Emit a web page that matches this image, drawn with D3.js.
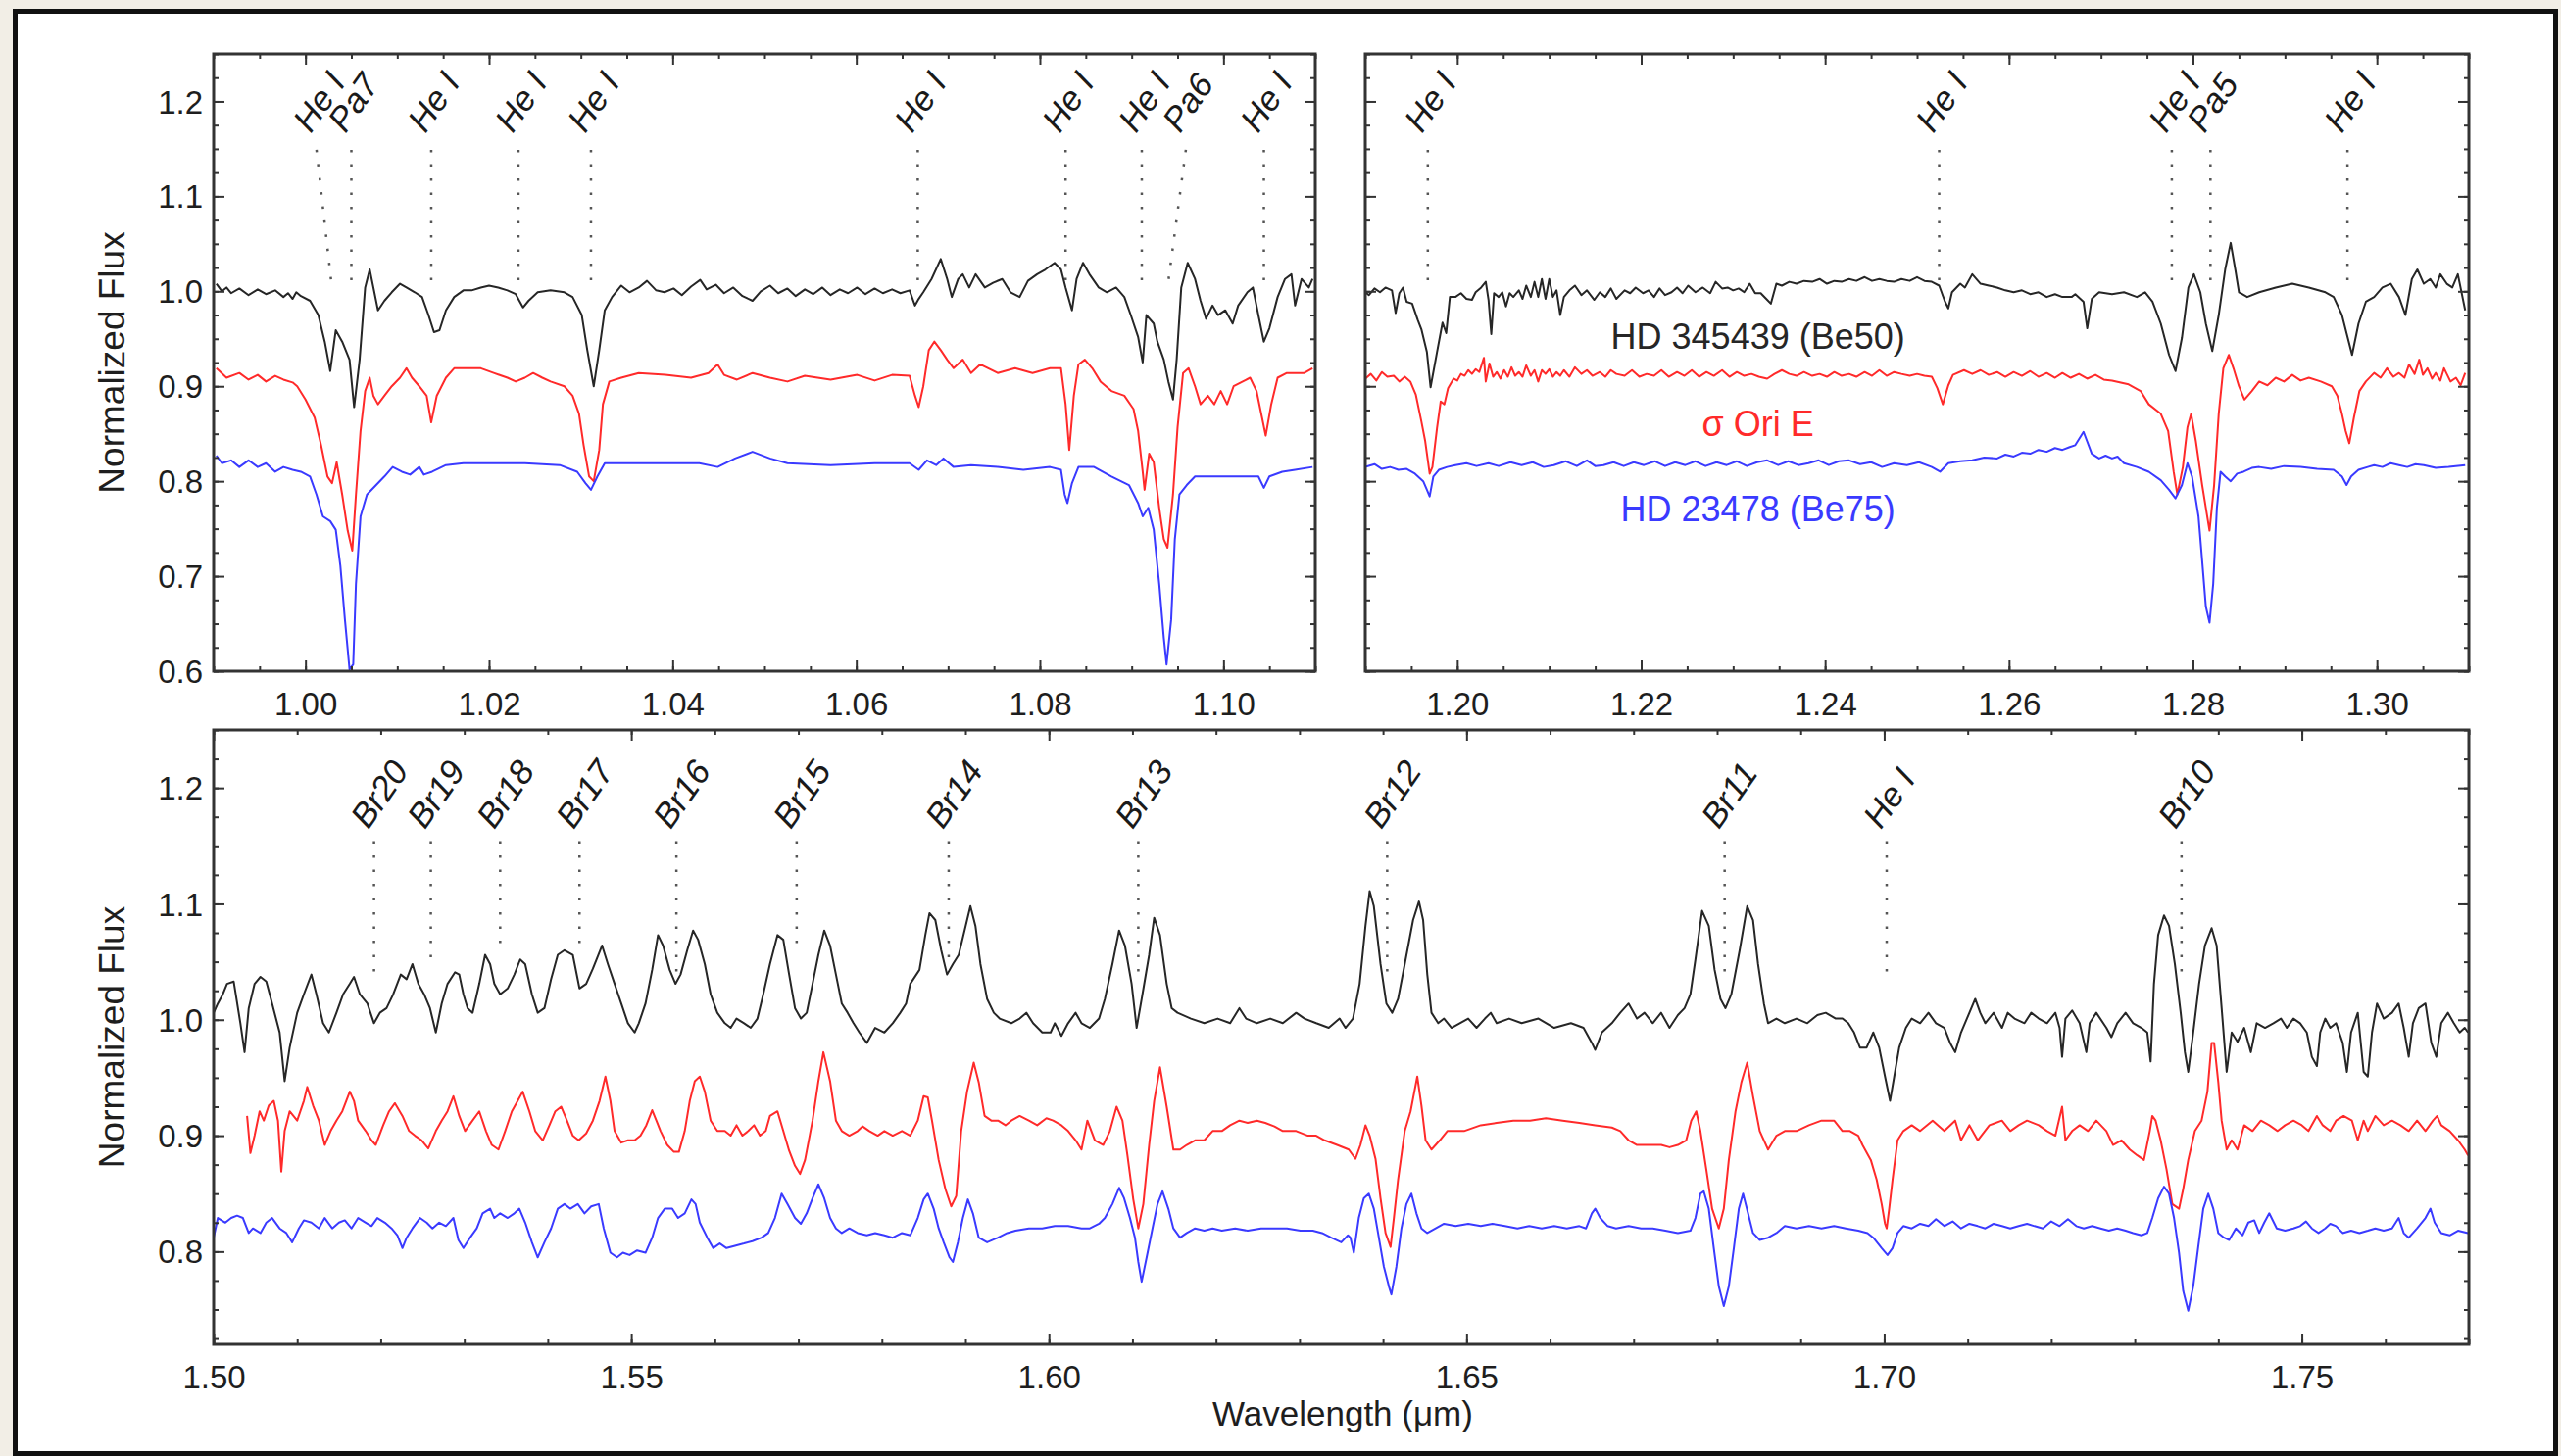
<!DOCTYPE html>
<html><head><meta charset="utf-8">
<script src="https://cdn.jsdelivr.net/npm/d3@7"></script>
<style>html,body{margin:0;padding:0;background:#f2eee6;} svg{display:block;}</style>
</head><body><svg id="c" width="2613" height="1486"></svg>
<script>
// ---------------- DATA ----------------
const seriesNames = ["HD 345439 (Be50)", "σ Ori E", "HD 23478 (Be75)"];
const xTicksP1 = [1.00, 1.02, 1.04, 1.06, 1.08, 1.10];
const xTicksP2 = [1.20, 1.22, 1.24, 1.26, 1.28, 1.30];
const xTicksP3 = [1.50, 1.55, 1.60, 1.65, 1.70, 1.75];

// Panel 1 (0.99 - 1.11 micron)
const p1Black = [[0.9903,1.008],[0.9909,1.000],[0.9914,1.004],[0.9919,0.998],[0.9928,1.003],[0.9938,0.996],[0.9948,1.002],[0.9957,0.997],[0.9967,1.001],[0.9976,0.994],[0.9981,0.998],[0.9986,0.992],[0.9990,0.999],[0.9995,0.995],[1.0005,0.990],[1.0014,0.975],[1.0021,0.947],[1.0027,0.916],[1.0033,0.959],[1.0040,0.947],[1.0048,0.928],[1.0053,0.878],[1.0059,0.928],[1.0065,1.004],[1.0070,1.023],[1.0074,1.004],[1.0079,0.980],[1.0086,0.990],[1.0094,0.999],[1.0103,1.008],[1.0110,1.004],[1.0119,0.999],[1.0127,0.994],[1.0134,0.975],[1.0140,0.957],[1.0146,0.959],[1.0153,0.980],[1.0162,0.994],[1.0172,1.001],[1.0181,1.001],[1.0191,1.004],[1.0200,1.006],[1.0210,1.004],[1.0220,1.001],[1.0229,0.997],[1.0237,0.983],[1.0243,0.990],[1.0253,0.999],[1.0267,1.001],[1.0282,0.999],[1.0291,0.994],[1.0301,0.975],[1.0307,0.938],[1.0314,0.900],[1.0320,0.938],[1.0326,0.980],[1.0334,0.994],[1.0344,1.006],[1.0353,0.999],[1.0363,1.004],[1.0372,1.011],[1.0382,1.001],[1.0391,0.999],[1.0401,1.003],[1.0410,0.996],[1.0420,1.005],[1.0430,1.012],[1.0437,1.002],[1.0447,1.007],[1.0456,0.998],[1.0466,1.004],[1.0476,0.995],[1.0487,0.990],[1.0496,1.000],[1.0506,1.006],[1.0515,0.998],[1.0525,1.003],[1.0534,0.995],[1.0544,1.002],[1.0553,0.997],[1.0563,1.004],[1.0572,0.996],[1.0582,1.002],[1.0591,0.998],[1.0601,1.004],[1.0610,0.997],[1.0620,1.003],[1.0629,0.998],[1.0639,1.002],[1.0648,0.998],[1.0658,1.001],[1.0664,0.985],[1.0668,0.992],[1.0673,0.999],[1.0682,1.013],[1.0692,1.034],[1.0699,1.013],[1.0704,0.994],[1.0711,1.013],[1.0716,1.018],[1.0723,1.004],[1.0730,1.018],[1.0740,1.004],[1.0749,1.009],[1.0759,1.013],[1.0768,0.999],[1.0778,0.994],[1.0787,1.011],[1.0797,1.018],[1.0806,1.023],[1.0816,1.030],[1.0823,1.023],[1.0828,1.004],[1.0835,0.980],[1.0840,1.013],[1.0847,1.030],[1.0854,1.018],[1.0864,1.004],[1.0873,0.999],[1.0883,1.004],[1.0892,0.994],[1.0899,0.975],[1.0907,0.952],[1.0912,0.925],[1.0916,0.975],[1.0924,0.966],[1.0928,0.947],[1.0935,0.928],[1.0940,0.905],[1.0945,0.886],[1.0949,0.928],[1.0954,1.004],[1.0961,1.030],[1.0969,1.013],[1.0975,0.990],[1.0981,0.971],[1.0988,0.985],[1.0994,0.975],[1.1002,0.980],[1.1010,0.966],[1.1016,0.985],[1.1026,0.999],[1.1032,1.004],[1.1038,0.975],[1.1044,0.947],[1.1050,0.961],[1.1059,0.994],[1.1067,1.013],[1.1074,1.018],[1.1078,0.985],[1.1085,1.013],[1.1093,1.004],[1.1097,1.013]];
const p1Red = [[0.9903,0.919],[0.9914,0.909],[0.9928,0.914],[0.9938,0.907],[0.9948,0.912],[0.9957,0.905],[0.9967,0.911],[0.9976,0.907],[0.9986,0.904],[0.9991,0.900],[1.0000,0.886],[1.0010,0.867],[1.0017,0.838],[1.0024,0.805],[1.0029,0.798],[1.0034,0.820],[1.0040,0.786],[1.0046,0.748],[1.0051,0.727],[1.0055,0.786],[1.0060,0.853],[1.0065,0.895],[1.0070,0.909],[1.0074,0.890],[1.0079,0.881],[1.0086,0.890],[1.0094,0.900],[1.0103,0.909],[1.0110,0.919],[1.0116,0.909],[1.0124,0.900],[1.0132,0.890],[1.0137,0.862],[1.0143,0.890],[1.0153,0.909],[1.0162,0.919],[1.0177,0.919],[1.0191,0.919],[1.0205,0.914],[1.0220,0.909],[1.0229,0.905],[1.0239,0.909],[1.0248,0.914],[1.0258,0.909],[1.0267,0.905],[1.0282,0.900],[1.0291,0.890],[1.0298,0.871],[1.0303,0.838],[1.0309,0.805],[1.0314,0.800],[1.0320,0.833],[1.0324,0.881],[1.0331,0.905],[1.0344,0.909],[1.0363,0.914],[1.0392,0.912],[1.0420,0.909],[1.0439,0.914],[1.0449,0.923],[1.0456,0.912],[1.0470,0.907],[1.0487,0.914],[1.0506,0.909],[1.0525,0.905],[1.0544,0.911],[1.0572,0.907],[1.0601,0.912],[1.0620,0.906],[1.0639,0.912],[1.0658,0.911],[1.0664,0.890],[1.0668,0.878],[1.0673,0.900],[1.0679,0.938],[1.0685,0.947],[1.0692,0.938],[1.0699,0.928],[1.0706,0.919],[1.0716,0.928],[1.0725,0.914],[1.0735,0.923],[1.0754,0.914],[1.0773,0.919],[1.0792,0.914],[1.0811,0.919],[1.0823,0.919],[1.0828,0.881],[1.0832,0.833],[1.0837,0.890],[1.0842,0.923],[1.0849,0.928],[1.0857,0.919],[1.0866,0.905],[1.0878,0.895],[1.0892,0.890],[1.0902,0.876],[1.0907,0.853],[1.0912,0.810],[1.0914,0.791],[1.0919,0.829],[1.0924,0.820],[1.0930,0.772],[1.0935,0.739],[1.0939,0.730],[1.0945,0.786],[1.0950,0.857],[1.0956,0.914],[1.0962,0.919],[1.0969,0.900],[1.0975,0.881],[1.0983,0.890],[1.0990,0.881],[1.0997,0.895],[1.1004,0.881],[1.1011,0.900],[1.1021,0.905],[1.1029,0.909],[1.1036,0.895],[1.1042,0.867],[1.1046,0.848],[1.1052,0.881],[1.1059,0.909],[1.1069,0.914],[1.1078,0.914],[1.1088,0.914],[1.1097,0.919]];
const p1Blue = [[0.9903,0.827],[0.9909,0.819],[0.9919,0.822],[0.9928,0.815],[0.9938,0.822],[0.9948,0.815],[0.9957,0.819],[0.9967,0.810],[0.9976,0.815],[0.9986,0.812],[0.9995,0.810],[1.0005,0.805],[1.0012,0.786],[1.0019,0.763],[1.0027,0.758],[1.0033,0.749],[1.0038,0.711],[1.0043,0.654],[1.0048,0.602],[1.0052,0.607],[1.0055,0.692],[1.0060,0.763],[1.0067,0.786],[1.0076,0.795],[1.0086,0.805],[1.0095,0.815],[1.0105,0.810],[1.0114,0.807],[1.0124,0.815],[1.0129,0.807],[1.0138,0.810],[1.0153,0.817],[1.0172,0.819],[1.0200,0.819],[1.0239,0.819],[1.0277,0.817],[1.0296,0.810],[1.0305,0.798],[1.0311,0.791],[1.0318,0.805],[1.0326,0.819],[1.0353,0.819],[1.0392,0.819],[1.0429,0.819],[1.0449,0.815],[1.0468,0.824],[1.0487,0.831],[1.0506,0.824],[1.0525,0.819],[1.0572,0.817],[1.0620,0.819],[1.0658,0.819],[1.0668,0.812],[1.0677,0.822],[1.0687,0.817],[1.0695,0.824],[1.0706,0.815],[1.0725,0.817],[1.0754,0.815],[1.0782,0.812],[1.0811,0.815],[1.0823,0.812],[1.0827,0.786],[1.0830,0.777],[1.0835,0.798],[1.0842,0.815],[1.0859,0.815],[1.0878,0.805],[1.0897,0.796],[1.0907,0.777],[1.0912,0.763],[1.0918,0.772],[1.0924,0.749],[1.0930,0.692],[1.0935,0.635],[1.0938,0.607],[1.0943,0.654],[1.0947,0.739],[1.0952,0.786],[1.0960,0.796],[1.0969,0.805],[1.0983,0.805],[1.1002,0.805],[1.1021,0.805],[1.1038,0.805],[1.1044,0.793],[1.1050,0.805],[1.1064,0.810],[1.1078,0.812],[1.1097,0.815]];

// Panel 2 (1.19 - 1.31 micron)
const p2Black = [[1.1900,0.999],[1.1904,0.996],[1.1910,1.003],[1.1916,0.999],[1.1922,1.004],[1.1929,1.001],[1.1933,0.977],[1.1937,0.998],[1.1941,1.004],[1.1945,0.989],[1.1951,0.987],[1.1957,0.970],[1.1961,0.960],[1.1967,0.936],[1.1971,0.899],[1.1978,0.936],[1.1984,0.967],[1.1988,0.956],[1.1992,0.994],[1.1998,0.994],[1.2004,0.998],[1.2010,0.992],[1.2016,0.991],[1.2020,0.999],[1.2026,1.004],[1.2031,1.010],[1.2034,0.991],[1.2037,0.955],[1.2040,0.998],[1.2045,0.994],[1.2049,0.999],[1.2053,0.984],[1.2057,0.998],[1.2061,0.994],[1.2067,1.001],[1.2071,0.992],[1.2075,1.006],[1.2080,0.994],[1.2084,1.010],[1.2088,0.994],[1.2092,1.013],[1.2096,0.992],[1.2100,1.013],[1.2104,0.994],[1.2108,1.001],[1.2112,0.975],[1.2116,0.994],[1.2122,1.001],[1.2128,1.006],[1.2135,0.996],[1.2141,1.001],[1.2149,0.991],[1.2155,0.999],[1.2161,0.994],[1.2167,1.003],[1.2173,0.992],[1.2182,1.001],[1.2188,0.998],[1.2194,1.004],[1.2202,0.998],[1.2208,1.001],[1.2214,0.994],[1.2220,1.003],[1.2226,0.996],[1.2233,0.999],[1.2239,1.004],[1.2245,0.998],[1.2251,1.006],[1.2259,0.999],[1.2267,1.004],[1.2275,0.998],[1.2281,1.010],[1.2288,1.003],[1.2294,1.004],[1.2300,1.001],[1.2306,1.003],[1.2312,0.999],[1.2318,1.008],[1.2324,0.998],[1.2330,0.998],[1.2337,0.991],[1.2341,0.987],[1.2347,1.008],[1.2353,1.006],[1.2361,1.010],[1.2369,1.008],[1.2377,1.011],[1.2386,1.010],[1.2394,1.013],[1.2402,1.008],[1.2410,1.011],[1.2418,1.010],[1.2426,1.013],[1.2434,1.011],[1.2443,1.015],[1.2451,1.011],[1.2459,1.013],[1.2467,1.011],[1.2475,1.010],[1.2483,1.013],[1.2492,1.011],[1.2500,1.015],[1.2508,1.011],[1.2516,1.010],[1.2524,1.006],[1.2530,0.990],[1.2534,0.982],[1.2538,0.999],[1.2547,1.008],[1.2552,1.004],[1.2560,1.018],[1.2569,1.008],[1.2578,1.006],[1.2587,1.004],[1.2596,1.001],[1.2605,0.999],[1.2614,1.001],[1.2623,0.997],[1.2632,0.999],[1.2641,0.994],[1.2650,0.997],[1.2658,0.994],[1.2668,0.994],[1.2672,0.997],[1.2681,0.989],[1.2685,0.961],[1.2690,0.992],[1.2698,0.999],[1.2712,0.997],[1.2725,0.999],[1.2739,0.994],[1.2748,0.999],[1.2756,0.989],[1.2765,0.966],[1.2774,0.933],[1.2781,0.916],[1.2788,0.951],[1.2795,1.004],[1.2801,1.018],[1.2808,0.999],[1.2814,0.966],[1.2821,0.937],[1.2828,0.975],[1.2835,1.023],[1.2841,1.051],[1.2846,1.023],[1.2850,0.999],[1.2859,0.994],[1.2872,0.999],[1.2890,1.004],[1.2908,1.008],[1.2926,1.004],[1.2944,0.999],[1.2953,0.994],[1.2962,0.975],[1.2968,0.952],[1.2973,0.933],[1.2980,0.966],[1.2988,0.989],[1.2997,0.994],[1.3006,1.004],[1.3015,1.008],[1.3024,0.994],[1.3031,0.975],[1.3038,1.013],[1.3044,1.023],[1.3051,1.008],[1.3058,1.013],[1.3064,1.004],[1.3069,1.018],[1.3076,1.008],[1.3082,1.004],[1.3088,1.018],[1.3096,0.980]];
const p2Red = [[1.1900,0.908],[1.1906,0.913],[1.1912,0.906],[1.1918,0.915],[1.1924,0.910],[1.1931,0.911],[1.1937,0.905],[1.1943,0.910],[1.1949,0.905],[1.1955,0.891],[1.1961,0.863],[1.1965,0.843],[1.1970,0.808],[1.1973,0.815],[1.1978,0.856],[1.1982,0.884],[1.1986,0.881],[1.1990,0.898],[1.1996,0.908],[1.2000,0.906],[1.2004,0.913],[1.2008,0.911],[1.2012,0.917],[1.2016,0.913],[1.2020,0.918],[1.2024,0.915],[1.2029,0.930],[1.2031,0.905],[1.2035,0.924],[1.2039,0.910],[1.2043,0.915],[1.2047,0.908],[1.2051,0.917],[1.2055,0.910],[1.2059,0.920],[1.2063,0.911],[1.2067,0.915],[1.2071,0.910],[1.2075,0.922],[1.2080,0.911],[1.2084,0.917],[1.2088,0.905],[1.2092,0.917],[1.2096,0.913],[1.2100,0.918],[1.2104,0.910],[1.2108,0.915],[1.2112,0.911],[1.2116,0.917],[1.2122,0.910],[1.2128,0.920],[1.2135,0.913],[1.2141,0.917],[1.2147,0.911],[1.2155,0.915],[1.2161,0.910],[1.2167,0.917],[1.2173,0.913],[1.2182,0.911],[1.2190,0.917],[1.2198,0.910],[1.2206,0.913],[1.2214,0.911],[1.2222,0.917],[1.2230,0.910],[1.2239,0.915],[1.2247,0.911],[1.2255,0.917],[1.2263,0.910],[1.2271,0.915],[1.2279,0.911],[1.2288,0.917],[1.2296,0.910],[1.2304,0.915],[1.2312,0.911],[1.2320,0.913],[1.2328,0.910],[1.2337,0.908],[1.2345,0.913],[1.2353,0.917],[1.2361,0.913],[1.2369,0.911],[1.2377,0.915],[1.2386,0.911],[1.2394,0.913],[1.2402,0.910],[1.2410,0.915],[1.2418,0.911],[1.2426,0.913],[1.2434,0.910],[1.2443,0.915],[1.2451,0.911],[1.2459,0.917],[1.2467,0.911],[1.2475,0.915],[1.2483,0.913],[1.2492,0.911],[1.2500,0.913],[1.2508,0.911],[1.2516,0.910],[1.2522,0.898],[1.2528,0.881],[1.2534,0.901],[1.2539,0.912],[1.2551,0.917],[1.2560,0.913],[1.2569,0.917],[1.2578,0.912],[1.2587,0.915],[1.2596,0.910],[1.2605,0.915],[1.2614,0.911],[1.2623,0.916],[1.2632,0.910],[1.2641,0.914],[1.2650,0.909],[1.2658,0.914],[1.2667,0.909],[1.2676,0.913],[1.2685,0.908],[1.2694,0.912],[1.2703,0.907],[1.2712,0.906],[1.2730,0.902],[1.2743,0.895],[1.2752,0.881],[1.2765,0.871],[1.2773,0.853],[1.2779,0.810],[1.2783,0.786],[1.2789,0.815],[1.2794,0.857],[1.2798,0.871],[1.2803,0.843],[1.2810,0.796],[1.2814,0.772],[1.2818,0.748],[1.2823,0.796],[1.2828,0.871],[1.2833,0.919],[1.2839,0.933],[1.2844,0.919],[1.2850,0.900],[1.2856,0.886],[1.2864,0.895],[1.2872,0.905],[1.2881,0.901],[1.2890,0.909],[1.2899,0.905],[1.2908,0.912],[1.2917,0.906],[1.2926,0.909],[1.2939,0.905],[1.2951,0.900],[1.2957,0.890],[1.2962,0.871],[1.2966,0.853],[1.2970,0.840],[1.2975,0.867],[1.2981,0.895],[1.2988,0.905],[1.2997,0.914],[1.3004,0.909],[1.3011,0.919],[1.3018,0.910],[1.3024,0.914],[1.3030,0.909],[1.3035,0.923],[1.3041,0.913],[1.3046,0.928],[1.3050,0.912],[1.3055,0.919],[1.3060,0.908],[1.3064,0.914],[1.3069,0.906],[1.3073,0.919],[1.3080,0.905],[1.3086,0.909],[1.3091,0.901],[1.3096,0.914]];
const p2Blue = [[1.1900,0.815],[1.1910,0.818],[1.1918,0.813],[1.1927,0.815],[1.1936,0.812],[1.1945,0.813],[1.1954,0.808],[1.1963,0.800],[1.1967,0.791],[1.1970,0.784],[1.1974,0.805],[1.1980,0.812],[1.1989,0.815],[1.1998,0.817],[1.2010,0.819],[1.2021,0.816],[1.2034,0.819],[1.2045,0.816],[1.2058,0.820],[1.2070,0.817],[1.2082,0.820],[1.2094,0.815],[1.2105,0.817],[1.2118,0.821],[1.2130,0.816],[1.2141,0.822],[1.2150,0.816],[1.2159,0.817],[1.2170,0.820],[1.2181,0.816],[1.2192,0.820],[1.2203,0.817],[1.2215,0.821],[1.2226,0.816],[1.2237,0.820],[1.2248,0.817],[1.2259,0.821],[1.2270,0.816],[1.2282,0.820],[1.2293,0.817],[1.2304,0.821],[1.2315,0.816],[1.2326,0.820],[1.2337,0.822],[1.2349,0.817],[1.2360,0.821],[1.2371,0.817],[1.2382,0.819],[1.2393,0.822],[1.2404,0.817],[1.2415,0.821],[1.2426,0.822],[1.2438,0.818],[1.2450,0.820],[1.2462,0.815],[1.2475,0.819],[1.2489,0.817],[1.2502,0.820],[1.2516,0.815],[1.2525,0.810],[1.2534,0.819],[1.2547,0.821],[1.2560,0.822],[1.2573,0.825],[1.2587,0.824],[1.2596,0.828],[1.2605,0.826],[1.2614,0.830],[1.2623,0.829],[1.2632,0.833],[1.2641,0.831],[1.2650,0.835],[1.2658,0.833],[1.2666,0.836],[1.2672,0.838],[1.2681,0.852],[1.2690,0.829],[1.2698,0.824],[1.2705,0.827],[1.2712,0.824],[1.2718,0.826],[1.2725,0.819],[1.2739,0.815],[1.2752,0.810],[1.2765,0.801],[1.2774,0.791],[1.2781,0.782],[1.2788,0.796],[1.2794,0.819],[1.2799,0.805],[1.2806,0.763],[1.2810,0.716],[1.2814,0.668],[1.2818,0.651],[1.2822,0.692],[1.2826,0.772],[1.2830,0.810],[1.2835,0.805],[1.2841,0.800],[1.2848,0.808],[1.2855,0.810],[1.2864,0.814],[1.2872,0.815],[1.2885,0.813],[1.2899,0.816],[1.2917,0.815],[1.2935,0.813],[1.2953,0.812],[1.2962,0.805],[1.2967,0.796],[1.2972,0.805],[1.2980,0.812],[1.2990,0.815],[1.2997,0.817],[1.3006,0.815],[1.3015,0.819],[1.3024,0.817],[1.3033,0.815],[1.3042,0.818],[1.3051,0.817],[1.3064,0.814],[1.3078,0.815],[1.3096,0.817]];

// Panel 3 (1.50 - 1.77 micron)
const p3Black = [[1.5000,1.006],[1.5005,1.014],[1.5011,1.022],[1.5016,1.031],[1.5024,1.033],[1.5032,0.997],[1.5037,0.972],[1.5042,1.010],[1.5049,1.031],[1.5056,1.037],[1.5063,1.033],[1.5070,1.014],[1.5079,0.989],[1.5085,0.947],[1.5091,0.976],[1.5100,1.006],[1.5108,1.022],[1.5117,1.039],[1.5123,1.022],[1.5131,0.997],[1.5138,0.989],[1.5147,1.006],[1.5155,1.022],[1.5163,1.031],[1.5168,1.037],[1.5175,1.022],[1.5184,1.014],[1.5192,0.997],[1.5199,1.006],[1.5207,1.010],[1.5215,1.022],[1.5224,1.039],[1.5231,1.035],[1.5238,1.048],[1.5245,1.031],[1.5252,1.022],[1.5259,1.010],[1.5266,0.989],[1.5273,1.014],[1.5280,1.031],[1.5289,1.041],[1.5294,1.039],[1.5299,1.022],[1.5304,1.010],[1.5310,1.006],[1.5318,1.031],[1.5325,1.056],[1.5331,1.048],[1.5336,1.031],[1.5343,1.022],[1.5352,1.027],[1.5360,1.039],[1.5367,1.052],[1.5373,1.048],[1.5381,1.022],[1.5388,1.006],[1.5396,1.010],[1.5404,1.035],[1.5412,1.056],[1.5420,1.060],[1.5430,1.056],[1.5438,1.027],[1.5446,1.031],[1.5454,1.044],[1.5465,1.064],[1.5472,1.048],[1.5480,1.031],[1.5488,1.014],[1.5496,0.997],[1.5504,0.989],[1.5509,0.997],[1.5517,1.014],[1.5525,1.043],[1.5532,1.073],[1.5538,1.064],[1.5546,1.043],[1.5553,1.031],[1.5559,1.039],[1.5567,1.060],[1.5574,1.077],[1.5580,1.069],[1.5588,1.048],[1.5595,1.022],[1.5603,1.006],[1.5612,0.997],[1.5619,0.993],[1.5626,1.001],[1.5635,0.997],[1.5643,0.993],[1.5651,1.001],[1.5658,1.022],[1.5666,1.048],[1.5675,1.073],[1.5682,1.069],[1.5689,1.039],[1.5696,1.010],[1.5703,1.001],[1.5710,1.006],[1.5717,1.031],[1.5724,1.056],[1.5731,1.077],[1.5738,1.064],[1.5745,1.039],[1.5752,1.014],[1.5759,1.006],[1.5766,0.997],[1.5773,0.989],[1.5782,0.980],[1.5792,0.993],[1.5803,0.989],[1.5813,0.997],[1.5822,1.006],[1.5829,1.014],[1.5834,1.031],[1.5845,1.043],[1.5852,1.073],[1.5857,1.092],[1.5864,1.086],[1.5871,1.060],[1.5878,1.039],[1.5885,1.048],[1.5892,1.056],[1.5899,1.077],[1.5906,1.098],[1.5912,1.081],[1.5918,1.048],[1.5926,1.018],[1.5934,1.006],[1.5941,1.001],[1.5955,0.997],[1.5965,1.001],[1.5973,1.006],[1.5981,0.997],[1.5992,0.989],[1.6002,0.989],[1.6007,0.997],[1.6015,0.986],[1.6023,0.997],[1.6032,1.006],[1.6039,0.997],[1.6049,0.993],[1.6060,1.001],[1.6067,1.018],[1.6076,1.048],[1.6084,1.077],[1.6091,1.064],[1.6099,1.031],[1.6105,0.993],[1.6112,1.022],[1.6120,1.056],[1.6126,1.088],[1.6133,1.073],[1.6141,1.031],[1.6147,1.010],[1.6154,1.006],[1.6170,1.001],[1.6186,0.997],[1.6202,1.001],[1.6217,0.997],[1.6228,1.010],[1.6236,1.001],[1.6249,0.997],[1.6265,1.001],[1.6280,0.997],[1.6296,1.006],[1.6306,1.001],[1.6320,0.997],[1.6335,0.993],[1.6348,1.001],[1.6355,0.993],[1.6364,1.001],[1.6372,1.031],[1.6379,1.081],[1.6384,1.111],[1.6389,1.098],[1.6397,1.048],[1.6404,1.014],[1.6411,1.006],[1.6418,1.018],[1.6426,1.048],[1.6436,1.086],[1.6443,1.102],[1.6448,1.086],[1.6453,1.039],[1.6458,1.006],[1.6466,0.997],[1.6473,1.001],[1.6482,0.993],[1.6492,0.997],[1.6502,1.001],[1.6512,0.993],[1.6522,1.001],[1.6529,1.006],[1.6536,0.997],[1.6551,1.001],[1.6566,0.997],[1.6586,1.001],[1.6605,0.993],[1.6625,0.997],[1.6640,0.993],[1.6650,0.980],[1.6654,0.974],[1.6662,0.989],[1.6674,0.997],[1.6684,1.006],[1.6694,1.014],[1.6704,1.001],[1.6713,1.006],[1.6723,0.997],[1.6733,1.006],[1.6743,0.993],[1.6753,1.004],[1.6761,1.010],[1.6768,1.022],[1.6774,1.052],[1.6782,1.094],[1.6790,1.081],[1.6797,1.043],[1.6804,1.018],[1.6810,1.010],[1.6817,1.022],[1.6827,1.060],[1.6836,1.098],[1.6843,1.086],[1.6849,1.048],[1.6856,1.014],[1.6861,0.997],[1.6871,1.001],[1.6881,0.997],[1.6895,1.001],[1.6908,0.997],[1.6920,1.004],[1.6930,1.006],[1.6942,1.001],[1.6950,1.001],[1.6957,0.997],[1.6964,0.989],[1.6971,0.976],[1.6979,0.976],[1.6987,0.989],[1.6994,0.976],[1.7001,0.951],[1.7007,0.930],[1.7012,0.951],[1.7018,0.976],[1.7026,0.993],[1.7033,1.001],[1.7043,0.997],[1.7053,1.006],[1.7062,0.997],[1.7072,0.993],[1.7079,0.980],[1.7085,0.972],[1.7092,0.989],[1.7102,1.006],[1.7109,1.018],[1.7115,1.006],[1.7121,0.997],[1.7131,1.006],[1.7141,0.993],[1.7148,1.006],[1.7156,1.001],[1.7168,0.997],[1.7176,1.006],[1.7185,1.001],[1.7195,0.997],[1.7205,1.006],[1.7210,0.993],[1.7213,0.968],[1.7217,1.001],[1.7225,1.008],[1.7234,0.997],[1.7242,0.972],[1.7246,0.997],[1.7254,1.006],[1.7266,0.993],[1.7272,0.985],[1.7279,0.997],[1.7289,1.006],[1.7298,0.997],[1.7308,0.993],[1.7315,0.989],[1.7319,0.964],[1.7323,1.031],[1.7328,1.073],[1.7335,1.090],[1.7341,1.081],[1.7348,1.048],[1.7355,1.006],[1.7360,0.972],[1.7364,0.955],[1.7370,0.989],[1.7377,1.031],[1.7384,1.064],[1.7392,1.079],[1.7398,1.064],[1.7404,1.010],[1.7410,0.955],[1.7416,0.989],[1.7423,0.981],[1.7431,0.993],[1.7439,0.972],[1.7446,0.997],[1.7456,0.993],[1.7466,0.997],[1.7475,1.001],[1.7482,0.993],[1.7490,1.001],[1.7498,0.997],[1.7506,0.989],[1.7512,0.968],[1.7518,0.960],[1.7522,0.989],[1.7528,1.001],[1.7534,0.993],[1.7541,0.997],[1.7549,0.980],[1.7554,0.955],[1.7559,0.989],[1.7567,1.006],[1.7574,0.955],[1.7579,0.951],[1.7584,0.989],[1.7590,1.014],[1.7598,1.001],[1.7608,1.006],[1.7616,1.014],[1.7622,0.993],[1.7628,0.968],[1.7633,0.997],[1.7640,1.010],[1.7648,1.014],[1.7655,0.980],[1.7661,0.968],[1.7667,0.997],[1.7675,1.006],[1.7682,0.997],[1.7689,0.989],[1.7695,0.993],[1.7699,0.989]];
const p3Red = [[1.5040,0.917],[1.5044,0.885],[1.5049,0.900],[1.5055,0.921],[1.5060,0.913],[1.5066,0.926],[1.5072,0.930],[1.5077,0.913],[1.5081,0.869],[1.5085,0.904],[1.5091,0.921],[1.5100,0.913],[1.5108,0.930],[1.5112,0.942],[1.5119,0.926],[1.5126,0.913],[1.5133,0.892],[1.5140,0.904],[1.5147,0.913],[1.5154,0.921],[1.5163,0.938],[1.5168,0.930],[1.5173,0.913],[1.5182,0.904],[1.5189,0.896],[1.5194,0.892],[1.5203,0.909],[1.5210,0.921],[1.5217,0.928],[1.5226,0.917],[1.5234,0.904],[1.5241,0.900],[1.5249,0.896],[1.5257,0.889],[1.5266,0.904],[1.5273,0.913],[1.5280,0.921],[1.5287,0.934],[1.5294,0.917],[1.5301,0.904],[1.5310,0.913],[1.5318,0.921],[1.5326,0.904],[1.5333,0.892],[1.5341,0.888],[1.5349,0.904],[1.5357,0.921],[1.5364,0.930],[1.5370,0.938],[1.5378,0.921],[1.5385,0.904],[1.5394,0.896],[1.5402,0.909],[1.5409,0.921],[1.5416,0.925],[1.5423,0.913],[1.5430,0.900],[1.5437,0.896],[1.5446,0.902],[1.5454,0.913],[1.5462,0.930],[1.5469,0.951],[1.5475,0.930],[1.5480,0.904],[1.5488,0.894],[1.5496,0.896],[1.5504,0.896],[1.5511,0.900],[1.5518,0.909],[1.5525,0.922],[1.5530,0.913],[1.5535,0.904],[1.5543,0.892],[1.5551,0.886],[1.5557,0.886],[1.5564,0.904],[1.5570,0.930],[1.5576,0.947],[1.5582,0.951],[1.5588,0.938],[1.5595,0.913],[1.5603,0.904],[1.5612,0.904],[1.5619,0.900],[1.5626,0.909],[1.5633,0.900],[1.5640,0.904],[1.5647,0.909],[1.5654,0.900],[1.5661,0.904],[1.5666,0.917],[1.5675,0.921],[1.5682,0.904],[1.5689,0.887],[1.5696,0.874],[1.5702,0.867],[1.5708,0.879],[1.5717,0.913],[1.5724,0.947],[1.5730,0.972],[1.5738,0.947],[1.5745,0.913],[1.5752,0.904],[1.5761,0.900],[1.5771,0.904],[1.5777,0.908],[1.5785,0.904],[1.5795,0.900],[1.5803,0.904],[1.5813,0.900],[1.5824,0.904],[1.5834,0.900],[1.5843,0.913],[1.5850,0.934],[1.5855,0.933],[1.5860,0.913],[1.5868,0.879],[1.5876,0.854],[1.5883,0.839],[1.5889,0.848],[1.5895,0.904],[1.5902,0.938],[1.5910,0.963],[1.5916,0.946],[1.5923,0.917],[1.5931,0.913],[1.5939,0.913],[1.5948,0.909],[1.5955,0.913],[1.5965,0.917],[1.5976,0.913],[1.5986,0.909],[1.5997,0.915],[1.6005,0.913],[1.6015,0.909],[1.6023,0.904],[1.6032,0.896],[1.6039,0.888],[1.6046,0.913],[1.6055,0.896],[1.6065,0.892],[1.6073,0.904],[1.6081,0.925],[1.6088,0.913],[1.6094,0.883],[1.6101,0.845],[1.6107,0.820],[1.6113,0.841],[1.6120,0.892],[1.6126,0.930],[1.6133,0.959],[1.6141,0.925],[1.6149,0.888],[1.6157,0.888],[1.6165,0.892],[1.6175,0.896],[1.6186,0.896],[1.6196,0.904],[1.6207,0.904],[1.6217,0.909],[1.6228,0.913],[1.6238,0.911],[1.6249,0.913],[1.6259,0.911],[1.6270,0.908],[1.6280,0.904],[1.6296,0.904],[1.6310,0.900],[1.6320,0.900],[1.6330,0.896],[1.6345,0.892],[1.6359,0.888],[1.6367,0.880],[1.6373,0.892],[1.6379,0.909],[1.6384,0.900],[1.6391,0.880],[1.6397,0.846],[1.6403,0.816],[1.6409,0.804],[1.6413,0.829],[1.6418,0.862],[1.6426,0.904],[1.6433,0.921],[1.6441,0.951],[1.6446,0.926],[1.6451,0.896],[1.6458,0.888],[1.6468,0.896],[1.6477,0.904],[1.6497,0.904],[1.6517,0.909],[1.6536,0.911],[1.6556,0.913],[1.6576,0.913],[1.6595,0.915],[1.6615,0.913],[1.6635,0.911],[1.6654,0.909],[1.6674,0.907],[1.6684,0.904],[1.6694,0.896],[1.6704,0.892],[1.6718,0.892],[1.6733,0.892],[1.6743,0.890],[1.6753,0.892],[1.6763,0.896],[1.6769,0.913],[1.6775,0.921],[1.6780,0.904],[1.6787,0.871],[1.6794,0.837],[1.6802,0.820],[1.6808,0.837],[1.6814,0.879],[1.6822,0.921],[1.6829,0.946],[1.6836,0.963],[1.6843,0.934],[1.6851,0.904],[1.6861,0.888],[1.6871,0.900],[1.6881,0.904],[1.6895,0.904],[1.6910,0.909],[1.6925,0.913],[1.6940,0.913],[1.6950,0.904],[1.6959,0.904],[1.6969,0.900],[1.6974,0.892],[1.6984,0.879],[1.6991,0.862],[1.6997,0.841],[1.7001,0.824],[1.7003,0.820],[1.7006,0.837],[1.7010,0.862],[1.7016,0.896],[1.7023,0.904],[1.7033,0.909],[1.7043,0.904],[1.7058,0.913],[1.7072,0.904],[1.7085,0.913],[1.7092,0.896],[1.7102,0.909],[1.7112,0.896],[1.7126,0.909],[1.7141,0.913],[1.7151,0.904],[1.7161,0.909],[1.7171,0.913],[1.7185,0.909],[1.7195,0.904],[1.7205,0.900],[1.7213,0.925],[1.7217,0.896],[1.7225,0.904],[1.7234,0.909],[1.7244,0.904],[1.7254,0.913],[1.7266,0.904],[1.7274,0.892],[1.7284,0.896],[1.7294,0.888],[1.7303,0.883],[1.7311,0.879],[1.7318,0.904],[1.7321,0.917],[1.7325,0.913],[1.7331,0.896],[1.7338,0.871],[1.7345,0.841],[1.7353,0.837],[1.7358,0.854],[1.7364,0.879],[1.7372,0.904],[1.7380,0.913],[1.7387,0.938],[1.7392,0.980],[1.7395,0.980],[1.7400,0.946],[1.7404,0.913],[1.7410,0.888],[1.7416,0.896],[1.7423,0.888],[1.7431,0.909],[1.7441,0.904],[1.7451,0.913],[1.7461,0.909],[1.7471,0.904],[1.7480,0.909],[1.7490,0.913],[1.7500,0.909],[1.7508,0.904],[1.7518,0.917],[1.7525,0.909],[1.7534,0.904],[1.7541,0.913],[1.7550,0.917],[1.7560,0.913],[1.7567,0.896],[1.7574,0.913],[1.7579,0.904],[1.7588,0.917],[1.7598,0.909],[1.7608,0.913],[1.7618,0.909],[1.7628,0.904],[1.7638,0.913],[1.7648,0.904],[1.7657,0.913],[1.7662,0.917],[1.7667,0.909],[1.7677,0.904],[1.7687,0.896],[1.7695,0.888],[1.7699,0.883]];
const p3Blue = [[1.5000,0.812],[1.5005,0.829],[1.5014,0.825],[1.5021,0.829],[1.5028,0.831],[1.5035,0.829],[1.5042,0.816],[1.5047,0.820],[1.5056,0.816],[1.5063,0.825],[1.5070,0.829],[1.5079,0.820],[1.5087,0.816],[1.5094,0.808],[1.5102,0.820],[1.5108,0.827],[1.5117,0.825],[1.5126,0.820],[1.5133,0.829],[1.5142,0.820],[1.5150,0.825],[1.5157,0.827],[1.5165,0.820],[1.5173,0.829],[1.5182,0.825],[1.5189,0.822],[1.5196,0.829],[1.5205,0.825],[1.5213,0.820],[1.5220,0.814],[1.5226,0.803],[1.5231,0.812],[1.5238,0.820],[1.5247,0.829],[1.5255,0.825],[1.5262,0.820],[1.5270,0.825],[1.5278,0.822],[1.5287,0.829],[1.5293,0.810],[1.5299,0.803],[1.5307,0.812],[1.5315,0.820],[1.5322,0.833],[1.5331,0.837],[1.5336,0.829],[1.5343,0.833],[1.5352,0.829],[1.5360,0.833],[1.5366,0.837],[1.5373,0.825],[1.5381,0.808],[1.5388,0.795],[1.5396,0.808],[1.5404,0.820],[1.5412,0.837],[1.5420,0.841],[1.5427,0.837],[1.5436,0.841],[1.5444,0.833],[1.5452,0.839],[1.5461,0.841],[1.5467,0.820],[1.5475,0.799],[1.5483,0.795],[1.5490,0.799],[1.5498,0.797],[1.5507,0.801],[1.5517,0.799],[1.5525,0.812],[1.5532,0.829],[1.5540,0.837],[1.5549,0.837],[1.5556,0.829],[1.5564,0.833],[1.5572,0.845],[1.5577,0.841],[1.5582,0.825],[1.5591,0.812],[1.5598,0.803],[1.5606,0.807],[1.5614,0.803],[1.5624,0.805],[1.5635,0.807],[1.5645,0.809],[1.5656,0.812],[1.5664,0.816],[1.5672,0.829],[1.5680,0.850],[1.5687,0.841],[1.5696,0.829],[1.5703,0.824],[1.5710,0.833],[1.5717,0.846],[1.5724,0.858],[1.5731,0.846],[1.5738,0.829],[1.5745,0.820],[1.5752,0.816],[1.5761,0.820],[1.5771,0.816],[1.5782,0.814],[1.5792,0.816],[1.5803,0.814],[1.5813,0.812],[1.5824,0.816],[1.5834,0.814],[1.5843,0.829],[1.5850,0.845],[1.5855,0.850],[1.5862,0.837],[1.5868,0.820],[1.5874,0.808],[1.5881,0.795],[1.5885,0.791],[1.5891,0.808],[1.5897,0.829],[1.5903,0.845],[1.5909,0.833],[1.5916,0.812],[1.5926,0.808],[1.5939,0.812],[1.5950,0.816],[1.5960,0.818],[1.5976,0.820],[1.5992,0.820],[1.6007,0.822],[1.6023,0.822],[1.6039,0.820],[1.6049,0.820],[1.6060,0.824],[1.6067,0.829],[1.6076,0.841],[1.6084,0.855],[1.6090,0.846],[1.6097,0.829],[1.6103,0.812],[1.6107,0.791],[1.6111,0.774],[1.6117,0.795],[1.6124,0.820],[1.6130,0.841],[1.6136,0.852],[1.6143,0.837],[1.6149,0.820],[1.6157,0.812],[1.6165,0.816],[1.6175,0.820],[1.6186,0.818],[1.6196,0.820],[1.6207,0.818],[1.6223,0.820],[1.6238,0.818],[1.6254,0.820],[1.6270,0.820],[1.6285,0.820],[1.6301,0.818],[1.6316,0.818],[1.6327,0.816],[1.6338,0.812],[1.6350,0.808],[1.6358,0.814],[1.6361,0.812],[1.6365,0.799],[1.6371,0.829],[1.6377,0.846],[1.6383,0.850],[1.6389,0.837],[1.6395,0.812],[1.6401,0.787],[1.6407,0.770],[1.6410,0.763],[1.6416,0.787],[1.6422,0.820],[1.6428,0.841],[1.6434,0.850],[1.6440,0.833],[1.6446,0.820],[1.6453,0.816],[1.6463,0.820],[1.6473,0.824],[1.6487,0.822],[1.6502,0.824],[1.6517,0.822],[1.6531,0.824],[1.6546,0.822],[1.6561,0.820],[1.6575,0.822],[1.6590,0.820],[1.6605,0.822],[1.6620,0.820],[1.6635,0.822],[1.6643,0.820],[1.6650,0.833],[1.6654,0.837],[1.6660,0.829],[1.6669,0.822],[1.6679,0.820],[1.6694,0.822],[1.6709,0.820],[1.6723,0.820],[1.6738,0.818],[1.6753,0.816],[1.6768,0.818],[1.6774,0.829],[1.6780,0.850],[1.6784,0.852],[1.6790,0.837],[1.6796,0.803],[1.6802,0.770],[1.6808,0.753],[1.6814,0.770],[1.6820,0.803],[1.6826,0.837],[1.6831,0.850],[1.6837,0.833],[1.6843,0.816],[1.6851,0.810],[1.6861,0.812],[1.6871,0.816],[1.6881,0.822],[1.6895,0.820],[1.6910,0.822],[1.6925,0.820],[1.6940,0.822],[1.6954,0.820],[1.6969,0.818],[1.6980,0.816],[1.6987,0.812],[1.6997,0.803],[1.7004,0.797],[1.7010,0.803],[1.7016,0.816],[1.7023,0.822],[1.7033,0.820],[1.7043,0.824],[1.7053,0.822],[1.7062,0.828],[1.7072,0.822],[1.7082,0.826],[1.7092,0.820],[1.7102,0.824],[1.7112,0.822],[1.7121,0.820],[1.7131,0.824],[1.7141,0.822],[1.7151,0.820],[1.7161,0.822],[1.7171,0.824],[1.7180,0.822],[1.7190,0.820],[1.7200,0.826],[1.7210,0.822],[1.7220,0.828],[1.7230,0.822],[1.7239,0.820],[1.7249,0.822],[1.7259,0.820],[1.7269,0.818],[1.7279,0.820],[1.7289,0.818],[1.7298,0.816],[1.7308,0.814],[1.7315,0.816],[1.7321,0.829],[1.7328,0.846],[1.7335,0.856],[1.7341,0.850],[1.7347,0.829],[1.7353,0.799],[1.7358,0.766],[1.7364,0.749],[1.7370,0.770],[1.7376,0.804],[1.7382,0.837],[1.7388,0.850],[1.7394,0.837],[1.7400,0.816],[1.7407,0.812],[1.7413,0.810],[1.7421,0.820],[1.7429,0.814],[1.7436,0.825],[1.7443,0.827],[1.7449,0.816],[1.7455,0.825],[1.7461,0.833],[1.7470,0.820],[1.7480,0.818],[1.7490,0.820],[1.7498,0.822],[1.7505,0.826],[1.7512,0.820],[1.7520,0.816],[1.7528,0.820],[1.7534,0.824],[1.7541,0.822],[1.7549,0.816],[1.7559,0.818],[1.7569,0.816],[1.7579,0.818],[1.7588,0.820],[1.7598,0.818],[1.7608,0.820],[1.7616,0.829],[1.7622,0.816],[1.7628,0.812],[1.7638,0.820],[1.7648,0.829],[1.7654,0.837],[1.7659,0.825],[1.7667,0.816],[1.7677,0.814],[1.7687,0.818],[1.7699,0.816]];

// Line identifications: [label, wavelength at top of marker, wavelength at bottom, flux at bottom]
const p1Lines = [["He I",1.0012,1.0028,1.011],["Pa7",1.0050,1.0050,1.011],["He I",1.0137,1.0137,1.011],["He I",1.0232,1.0232,1.011],["He I",1.0311,1.0311,1.011],["He I",1.0667,1.0667,1.011],["He I",1.0828,1.0828,1.011],["He I",1.0911,1.0911,1.011],["Pa6",1.0959,1.0940,1.011],["He I",1.1044,1.1044,1.011]];
const p2Lines = [["He I",1.1968,1.1968,1.011],["He I",1.2524,1.2524,1.011],["He I",1.2777,1.2777,1.011],["Pa5",1.2819,1.2819,1.011],["He I",1.2968,1.2968,1.011]];
const p3Lines = [["Br20",1.5192,1.5192,1.037],["Br19",1.5260,1.5260,1.048],["Br18",1.5343,1.5343,1.059],["Br17",1.5438,1.5438,1.065],["Br16",1.5554,1.5554,1.041],["Br15",1.5698,1.5698,1.056],["Br14",1.5880,1.5880,1.052],["Br13",1.6107,1.6107,1.039],["Br12",1.6405,1.6405,1.038],["Br11",1.6809,1.6809,1.036],["He I",1.7003,1.7003,1.033],["Br10",1.7356,1.7356,1.038]];
// legend positions (data coords in panel 2): [x, y]
const legendPos = [[1.2327,0.939],[1.2327,0.848],[1.2327,0.758]];

// ---------------- DRAWING ----------------
const FONT = "'Liberation Sans', Arial, Helvetica, sans-serif";
const COLORS = ["#262626", "#ff2a2a", "#3a3aff"];
const svg = d3.select("#c");
svg.append("rect").attr("width",2613).attr("height",1486).attr("fill","#f2eee6");
svg.append("rect").attr("x",15.5).attr("y",11.5).attr("width",2592).attr("height",1472)
   .attr("fill","#ffffff").attr("stroke","#111").attr("stroke-width",5);

function decRange(a, b, step) {
  const out = [];
  const n = Math.floor((b - a) / step + 1e-6);
  for (let i = 0; i <= n; i++) out.push(+(a + i * step).toFixed(4));
  return out;
}

function panel(o) {
  const g = svg.append("g");
  const x = d3.scaleLinear().domain(o.xDomain).range([o.x0, o.x1]);
  const y = d3.scaleLinear().domain(o.yDomain).range([o.y1, o.y0]);
  const clipId = "clip" + o.id;
  svg.append("clipPath").attr("id", clipId).append("rect")
     .attr("x", o.x0).attr("y", o.y0).attr("width", o.x1 - o.x0).attr("height", o.y1 - o.y0);

  const line = d3.line().x(d => x(d[0])).y(d => y(d[1]));
  const sg = g.append("g").attr("clip-path", `url(#${clipId})`);
  o.series.forEach((s, i) => {
    sg.append("path").datum(s).attr("d", line).attr("fill", "none")
      .attr("stroke", COLORS[i]).attr("stroke-width", 2).attr("stroke-linejoin", "round");
  });

  o.lines.forEach(l => {
    const xt = x(l[1]), yt = y(o.markTop), xb = x(l[2]), yb = y(l[3]);
    g.append("line").attr("x1", xt).attr("y1", yt).attr("x2", xb).attr("y2", yb)
      .attr("stroke", "#555").attr("stroke-width", 2.5).attr("stroke-dasharray", "2.5,12");
    g.append("text").attr("transform", `translate(${xt + o.lblDx},${yt + o.lblDy}) rotate(-55)`)
      .attr("font-family", FONT).attr("font-size", 35).attr("font-style", "italic")
      .attr("fill", "#1a1a1a").text(l[0]);
  });

  const xMajor = o.xTicks, xMinor = decRange(o.xDomain[0], o.xDomain[1], o.xMinor);
  const yMajor = decRange(o.yMajorStart, o.yDomain[1], 0.1), yMinor = decRange(o.yMinorStart, o.yDomain[1], 0.025);
  const ax = [];
  ax.push([d3.axisBottom(x).tickValues(xMinor).tickSize(-5).tickFormat(""), `translate(0,${o.y1})`]);
  ax.push([d3.axisBottom(x).tickValues(xMajor).tickSize(-11).tickFormat(d3.format(".2f")), `translate(0,${o.y1})`, "xlab"]);
  ax.push([d3.axisTop(x).tickValues(xMinor).tickSize(-5).tickFormat(""), `translate(0,${o.y0})`]);
  ax.push([d3.axisTop(x).tickValues(xMajor).tickSize(-11).tickFormat(""), `translate(0,${o.y0})`]);
  ax.push([d3.axisLeft(y).tickValues(yMinor).tickSize(-5).tickFormat(""), `translate(${o.x0},0)`]);
  ax.push([d3.axisLeft(y).tickValues(yMajor).tickSize(-11).tickFormat(o.yLabels ? d3.format(".1f") : ""), `translate(${o.x0},0)`, "ylab"]);
  ax.push([d3.axisRight(y).tickValues(yMinor).tickSize(-5).tickFormat(""), `translate(${o.x1},0)`]);
  ax.push([d3.axisRight(y).tickValues(yMajor).tickSize(-11).tickFormat(""), `translate(${o.x1},0)`]);
  ax.forEach(a => {
    const ag = g.append("g").attr("transform", a[1]).call(a[0]);
    ag.select(".domain").remove();
    ag.selectAll(".tick line").attr("stroke", "#333").attr("stroke-width", 2);
    ag.selectAll("text").attr("font-family", FONT).attr("font-size", 33).attr("fill", "#1e1e1e");
    if (a[2] === "xlab") ag.selectAll("text").attr("y", 45).attr("dy", null);
    if (a[2] === "ylab") ag.selectAll("text").attr("x", -11).attr("dy", "0.35em");
  });

  g.append("rect").attr("x", o.x0).attr("y", o.y0).attr("width", o.x1 - o.x0).attr("height", o.y1 - o.y0)
   .attr("fill", "none").attr("stroke", "#333").attr("stroke-width", 3);

  if (o.yTitle) {
    g.append("text").attr("transform", `translate(127,${(o.y0 + o.y1) / 2}) rotate(-90)`)
      .attr("text-anchor", "middle").attr("font-family", FONT).attr("font-size", 37)
      .attr("fill", "#1e1e1e").text("Normalized Flux");
  }
  return {x, y, g};
}

panel({id:1, x0:218, x1:1342, y0:55, y1:685, xDomain:[0.99,1.11], yDomain:[0.6,1.25],
  xTicks:xTicksP1, xMinor:0.005, yMajorStart:0.6, yMinorStart:0.6, yLabels:true, yTitle:true,
  series:[p1Black,p1Red,p1Blue], lines:p1Lines, markTop:1.149, lblDx:-6, lblDy:-16});

const P2 = panel({id:2, x0:1393, x1:2519, y0:55, y1:685, xDomain:[1.19,1.31], yDomain:[0.6,1.25],
  xTicks:xTicksP2, xMinor:0.005, yMajorStart:0.6, yMinorStart:0.6, yLabels:false, yTitle:false,
  series:[p2Black,p2Red,p2Blue], lines:p2Lines, markTop:1.149, lblDx:-6, lblDy:-16});

panel({id:3, x0:218, x1:2519, y0:745, y1:1372, xDomain:[1.50,1.77], yDomain:[0.72,1.25],
  xTicks:xTicksP3, xMinor:0.01, yMajorStart:0.8, yMinorStart:0.725, yLabels:true, yTitle:true,
  series:[p3Black,p3Red,p3Blue], lines:p3Lines, markTop:1.154, lblDx:-6, lblDy:-11});

seriesNames.forEach((n, i) => {
  P2.g.append("text").attr("x", P2.x(legendPos[i][0])).attr("y", P2.y(legendPos[i][1]))
    .attr("text-anchor", "middle").attr("font-family", FONT).attr("font-size", 36)
    .attr("fill", COLORS[i]).text(n);
});

svg.append("text").attr("x", 1370).attr("y", 1455).attr("text-anchor", "middle")
  .attr("font-family", FONT).attr("font-size", 35).attr("fill", "#1e1e1e").text("Wavelength (μm)");
</script>
</body></html>
